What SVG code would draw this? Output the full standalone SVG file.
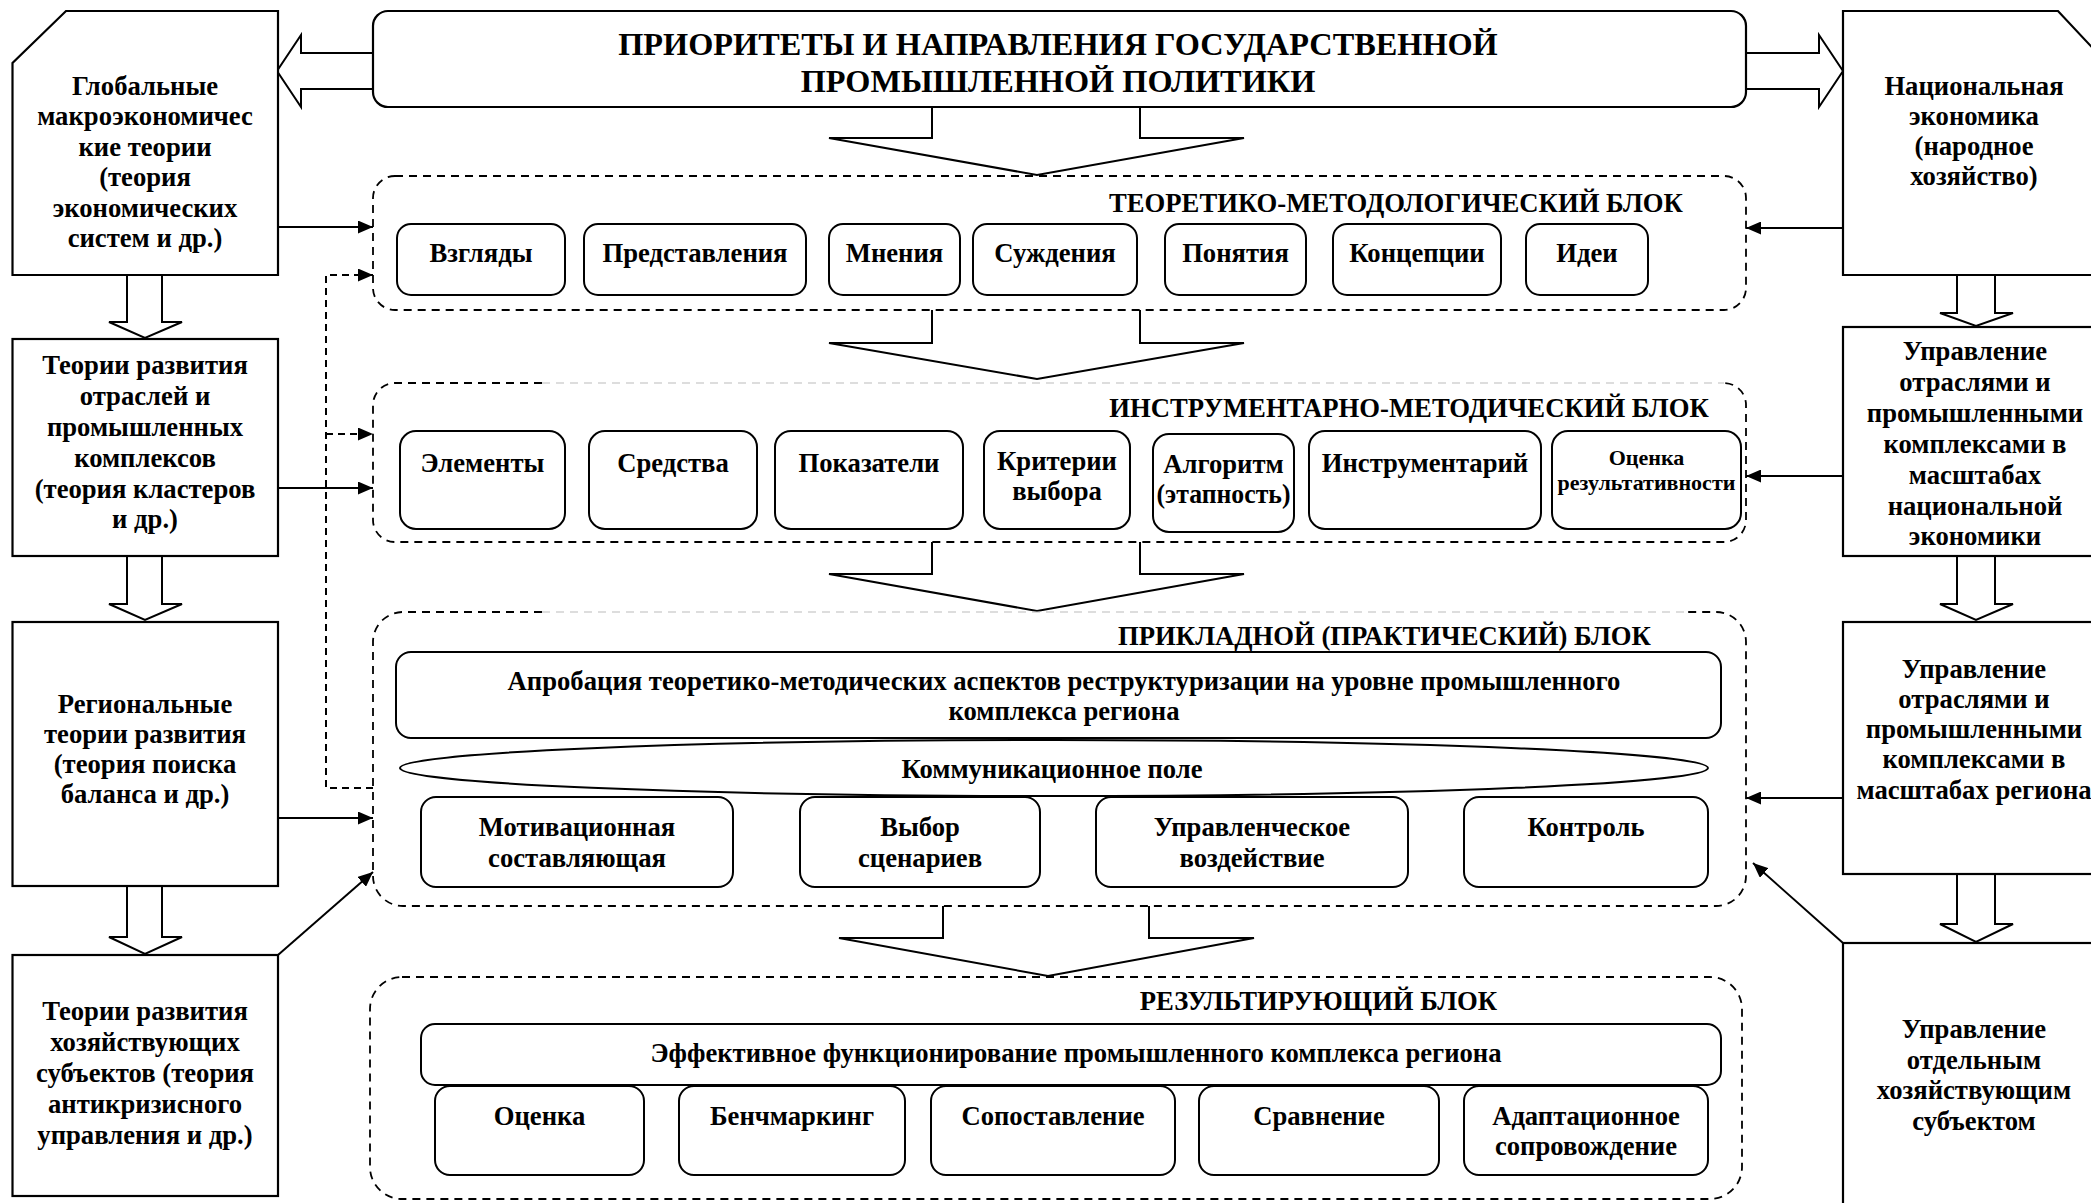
<svg xmlns="http://www.w3.org/2000/svg" width="2091" height="1203" viewBox="0 0 2091 1203">
<defs>
<style>
.box{fill:#fff;stroke:#000;stroke-width:2.2}
.item{fill:#fff;stroke:#000;stroke-width:2}
.blk{fill:none;stroke:#000;stroke-width:1.8;stroke-dasharray:8 6}
.blkg{fill:none;stroke:#bbb;stroke-width:1.2;stroke-dasharray:8 6}
.ha{fill:#fff;stroke:#000;stroke-width:2}
.ln{fill:none;stroke:#000;stroke-width:2}
.dl{fill:none;stroke:#000;stroke-width:2;stroke-dasharray:7 5}
text{font-family:"Liberation Serif","Times New Roman",serif;font-weight:bold;fill:#000;text-anchor:middle}
.f25{font-size:26.67px}
.f21{font-size:22px}
.f32{font-size:32.3px}
</style>
<marker id="ah" markerUnits="userSpaceOnUse" markerWidth="16" markerHeight="13" refX="15" refY="6.5" orient="auto">
<path d="M0,0 L15,6.5 L0,13 z" fill="#000"/>
</marker>
</defs>
<rect width="2091" height="1203" fill="#fff"/>

<g id="connectors">
<path class="ha" d="M373,53 H301 V35 L277,71 L301,107 V89 H373"/>
<path class="ha" d="M1746,53 H1819 V35 L1843,71 L1819,107 V89 H1746"/>
<path class="ha" d="M932,107 V138 H829 L1037,175 L1244,138 H1140 V107"/>
<path class="ha" d="M932,310 V343 H829 L1037,379 L1244,343 H1140 V310"/>
<path class="ha" d="M932,542 V574 H829 L1037,611 L1244,574 H1140 V542"/>
<path class="ha" d="M943,906 V938 H839 L1048,976 L1254,938 H1149 V906"/>
<path class="ha" d="M127,275 V322 H109 L145,338 L182,322 H162 V275"/>
<path class="ha" d="M127,556 V604 H109 L145,620 L182,604 H162 V556"/>
<path class="ha" d="M127,886 V937 H109 L145,954 L182,937 H162 V886"/>
<path class="ha" d="M1957,275 V313 H1940 L1976,326 L2013,313 H1995 V275"/>
<path class="ha" d="M1957,556 V604 H1940 L1976,620 L2013,604 H1995 V556"/>
<path class="ha" d="M1957,875 V924 H1940 L1976,942 L2013,924 H1995 V875"/>
<path class="ln" d="M278,227 H373" marker-end="url(#ah)"/>
<path class="ln" d="M278,488 H373" marker-end="url(#ah)"/>
<path class="ln" d="M278,818 H373" marker-end="url(#ah)"/>
<path class="ln" d="M278,955 L373,872" marker-end="url(#ah)"/>
<path class="ln" d="M1843,228 H1746" marker-end="url(#ah)"/>
<path class="ln" d="M1843,476 H1746" marker-end="url(#ah)"/>
<path class="ln" d="M1843,798 H1746" marker-end="url(#ah)"/>
<path class="ln" d="M1843,943 L1753,863" marker-end="url(#ah)"/>
<path class="dl" d="M373,788 H326 V275 H373" marker-end="url(#ah)"/>
<path class="dl" d="M326,434 H373" marker-end="url(#ah)"/>
</g>

<g id="top">
<rect class="box" x="373" y="11" width="1373" height="96" rx="15"/>
<text class="f32" x="1058" y="55">ПРИОРИТЕТЫ И НАПРАВЛЕНИЯ ГОСУДАРСТВЕННОЙ</text>
<text class="f32" x="1058" y="92">ПРОМЫШЛЕННОЙ ПОЛИТИКИ</text>
</g>

<g id="left1">
<path class="box" d="M66,11 H278 V275 H12.5 V63 Z"/>
<text class="f25" x="145" y="95">Глобальные</text>
<text class="f25" x="145" y="125">макроэкономичес</text>
<text class="f25" x="145" y="156">кие теории</text>
<text class="f25" x="145" y="186">(теория</text>
<text class="f25" x="145" y="217">экономических</text>
<text class="f25" x="145" y="247">систем и др.)</text>
</g>
<g id="left2">
<rect class="box" x="12.5" y="339" width="265.5" height="217"/>
<text class="f25" x="145" y="374">Теории развития</text>
<text class="f25" x="145" y="405">отраслей и</text>
<text class="f25" x="145" y="436">промышленных</text>
<text class="f25" x="145" y="467">комплексов</text>
<text class="f25" x="145" y="498">(теория кластеров</text>
<text class="f25" x="145" y="528">и др.)</text>
</g>
<g id="left3">
<rect class="box" x="12.5" y="622" width="265.5" height="264"/>
<text class="f25" x="145" y="713">Региональные</text>
<text class="f25" x="145" y="743">теории развития</text>
<text class="f25" x="145" y="773">(теория поиска</text>
<text class="f25" x="145" y="803">баланса и др.)</text>
</g>
<g id="left4">
<rect class="box" x="12.5" y="955" width="265.5" height="241"/>
<text class="f25" x="145" y="1020">Теории развития</text>
<text class="f25" x="145" y="1051">хозяйствующих</text>
<text class="f25" x="145" y="1082">субъектов (теория</text>
<text class="f25" x="145" y="1113">антикризисного</text>
<text class="f25" x="145" y="1144">управления и др.)</text>
</g>

<g id="right1">
<path class="box" d="M1843,11 H2058 L2102,58 V275 H1843 Z"/>
<text class="f25" x="1974" y="95">Национальная</text>
<text class="f25" x="1974" y="125">экономика</text>
<text class="f25" x="1974" y="155">(народное</text>
<text class="f25" x="1974" y="185">хозяйство)</text>
</g>
<g id="right2">
<rect class="box" x="1843" y="327" width="259" height="229"/>
<text class="f25" x="1975" y="360">Управление</text>
<text class="f25" x="1975" y="391">отраслями и</text>
<text class="f25" x="1975" y="422">промышленными</text>
<text class="f25" x="1975" y="453">комплексами в</text>
<text class="f25" x="1975" y="484">масштабах</text>
<text class="f25" x="1975" y="515">национальной</text>
<text class="f25" x="1975" y="545">экономики</text>
</g>
<g id="right3">
<rect class="box" x="1843" y="622" width="259" height="252"/>
<text class="f25" x="1974" y="678">Управление</text>
<text class="f25" x="1974" y="708">отраслями и</text>
<text class="f25" x="1974" y="738">промышленными</text>
<text class="f25" x="1974" y="768">комплексами в</text>
<text class="f25" x="1974" y="799">масштабах региона</text>
</g>
<g id="right4">
<rect class="box" x="1843" y="943" width="259" height="270"/>
<text class="f25" x="1974" y="1038">Управление</text>
<text class="f25" x="1974" y="1069">отдельным</text>
<text class="f25" x="1974" y="1099">хозяйствующим</text>
<text class="f25" x="1974" y="1130">субъектом</text>
</g>

<g id="block1">
<rect class="blk" x="373" y="176" width="1373" height="134" rx="22"/>
<text class="f25" x="1396" y="212">ТЕОРЕТИКО-МЕТОДОЛОГИЧЕСКИЙ БЛОК</text>
<g id="b1-vzglyady"><rect class="item" x="397" y="224" width="168" height="71" rx="14"/><text class="f25" x="481" y="262">Взгляды</text></g>
<g id="b1-predstavleniya"><rect class="item" x="584" y="224" width="222" height="71" rx="14"/><text class="f25" x="695" y="262">Представления</text></g>
<g id="b1-mneniya"><rect class="item" x="829" y="224" width="131" height="71" rx="14"/><text class="f25" x="894.5" y="262">Мнения</text></g>
<g id="b1-suzhdeniya"><rect class="item" x="973" y="224" width="164" height="71" rx="14"/><text class="f25" x="1055" y="262">Суждения</text></g>
<g id="b1-ponyatiya"><rect class="item" x="1165" y="224" width="141" height="71" rx="14"/><text class="f25" x="1235.5" y="262">Понятия</text></g>
<g id="b1-koncepcii"><rect class="item" x="1333" y="224" width="168" height="71" rx="14"/><text class="f25" x="1417" y="262">Концепции</text></g>
<g id="b1-idei"><rect class="item" x="1526" y="224" width="122" height="71" rx="14"/><text class="f25" x="1587" y="262">Идеи</text></g>
</g>

<g id="block2">
<path class="blkg" d="M542,383 H1724"/>
<path class="blk" d="M542,383 H395 A22,22 0 0 0 373,405 V520 A22,22 0 0 0 395,542 H1724 A22,22 0 0 0 1746,520 V405 A22,22 0 0 0 1724,383"/>
<text class="f25" x="1409" y="417">ИНСТРУМЕНТАРНО-МЕТОДИЧЕСКИЙ БЛОК</text>
<g id="b2-elementy"><rect class="item" x="400" y="431" width="165" height="98" rx="16"/><text class="f25" x="482.5" y="472">Элементы</text></g>
<g id="b2-sredstva"><rect class="item" x="589" y="431" width="168" height="98" rx="16"/><text class="f25" x="673" y="472">Средства</text></g>
<g id="b2-pokazateli"><rect class="item" x="775" y="431" width="188" height="98" rx="16"/><text class="f25" x="869" y="472">Показатели</text></g>
<g id="b2-kriterii"><rect class="item" x="984" y="431" width="146" height="98" rx="16"/><text class="f25" x="1057" y="470">Критерии</text><text class="f25" x="1057" y="500">выбора</text></g>
<g id="b2-algoritm"><rect class="item" x="1153" y="434" width="141" height="98" rx="16"/><text class="f25" x="1223.5" y="473">Алгоритм</text><text class="f25" x="1223.5" y="503" textLength="134" lengthAdjust="spacingAndGlyphs">(этапность)</text></g>
<g id="b2-instrumentariy"><rect class="item" x="1309" y="431" width="232" height="98" rx="16"/><text class="f25" x="1425" y="472">Инструментарий</text></g>
<g id="b2-ocenka"><rect class="item" x="1552" y="431" width="189" height="98" rx="16"/><text class="f21" x="1646.5" y="465">Оценка</text><text class="f21" x="1646.5" y="490">результативности</text></g>
</g>

<g id="block3">
<path class="blkg" d="M542,612 H1686"/>
<path class="blk" d="M542,612 H403 A30,30 0 0 0 373,642 V876 A30,30 0 0 0 403,906 H1716 A30,30 0 0 0 1746,876 V642 A30,30 0 0 0 1716,612 H1686"/>
<text class="f25" x="1384.5" y="645">ПРИКЛАДНОЙ (ПРАКТИЧЕСКИЙ) БЛОК</text>
<g id="b3-aprobaciya"><rect class="item" x="396" y="652" width="1325" height="86" rx="15"/>
<text class="f25" x="1064" y="690">Апробация теоретико-методических аспектов реструктуризации на уровне промышленного</text>
<text class="f25" x="1064" y="720">комплекса региона</text></g>
<g id="b3-pole"><ellipse class="item" cx="1054" cy="768" rx="654" ry="28"/><text class="f25" x="1052" y="778">Коммуникационное поле</text></g>
<g id="b3-motiv"><rect class="item" x="421" y="797" width="312" height="90" rx="15"/><text class="f25" x="577" y="836">Мотивационная</text><text class="f25" x="577" y="867">составляющая</text></g>
<g id="b3-vybor"><rect class="item" x="800" y="797" width="240" height="90" rx="15"/><text class="f25" x="920" y="836">Выбор</text><text class="f25" x="920" y="867">сценариев</text></g>
<g id="b3-upr"><rect class="item" x="1096" y="797" width="312" height="90" rx="15"/><text class="f25" x="1252" y="836">Управленческое</text><text class="f25" x="1252" y="867">воздействие</text></g>
<g id="b3-kontrol"><rect class="item" x="1464" y="797" width="244" height="90" rx="15"/><text class="f25" x="1586" y="836">Контроль</text></g>
</g>

<g id="block4">
<rect class="blk" x="370" y="977" width="1372" height="222" rx="32"/>
<text class="f25" x="1318.5" y="1010">РЕЗУЛЬТИРУЮЩИЙ БЛОК</text>
<g id="b4-effekt"><rect class="item" x="421" y="1024" width="1300" height="61" rx="14"/><text class="f25" x="1076" y="1062">Эффективное функционирование промышленного комплекса региона</text></g>
<g id="b4-ocenka"><rect class="item" x="435" y="1086" width="209" height="89" rx="15"/><text class="f25" x="539.5" y="1125">Оценка</text></g>
<g id="b4-bench"><rect class="item" x="679" y="1086" width="226" height="89" rx="15"/><text class="f25" x="792" y="1125">Бенчмаркинг</text></g>
<g id="b4-sopost"><rect class="item" x="931" y="1086" width="244" height="89" rx="15"/><text class="f25" x="1053" y="1125">Сопоставление</text></g>
<g id="b4-sravn"><rect class="item" x="1199" y="1086" width="240" height="89" rx="15"/><text class="f25" x="1319" y="1125">Сравнение</text></g>
<g id="b4-adapt"><rect class="item" x="1464" y="1086" width="244" height="89" rx="15"/><text class="f25" x="1586" y="1125">Адаптационное</text><text class="f25" x="1586" y="1155">сопровождение</text></g>
</g>
</svg>
